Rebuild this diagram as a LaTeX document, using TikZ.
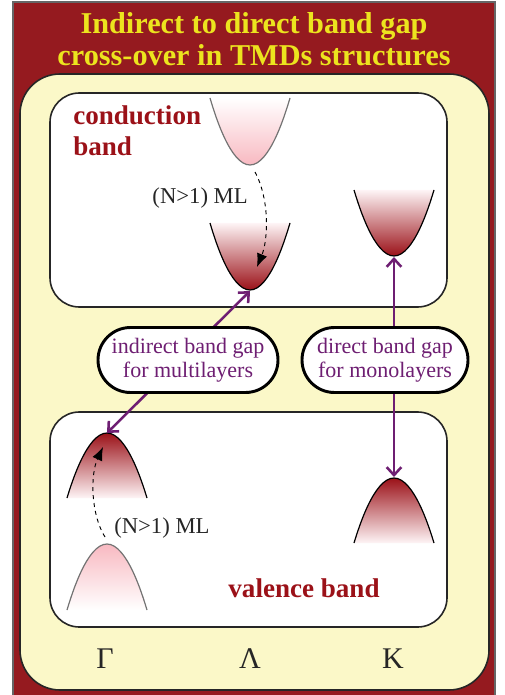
\documentclass[tikz,border=0pt]{standalone}
\usepackage{fontspec}
\setmainfont{Liberation Serif}
\usetikzlibrary{arrows.meta,positioning,shapes.misc}
\definecolor{bordeaux}{RGB}{149, 26, 31}
\definecolor{cream}{RGB}{251, 248, 200}
\definecolor{titleyellow}{RGB}{236, 228, 30}
\definecolor{bandred}{RGB}{155, 17, 24}
\definecolor{bandpink}{RGB}{248, 185, 193}
\definecolor{gapviolet}{RGB}{110, 30, 114}
\tikzset{
  panel/.style={draw=black!85, line width=1.2pt, fill=white, rounded corners=22pt},
  bandlabel/.style={text=bandred, font=\fontsize{20.3}{23.5}\selectfont\bfseries, align=left, inner sep=0pt},
  gapbubble/.style={draw=black, line width=2.2pt, fill=white, rounded rectangle, minimum height=48.75pt, text=gapviolet, align=center, inner sep=0pt, font=\fontsize{16.5}{18}\selectfont},
  gaparrow/.style={gapviolet, line width=1.9pt, {Straight Barb[length=6pt,width=11pt]}-{Straight Barb[length=6pt,width=11pt]}},
  mlshift/.style={dashed, line width=0.7pt, -{Latex[length=10pt,width=8pt]}},
  mllabel/.style={text=black!85, font=\fontsize{17}{20}\selectfont, inner sep=0pt},
  kpoint/.style={text=black!85, font=\fontsize{22.5}{24}\selectfont}
}

\begin{document}
\begin{tikzpicture}[x=0.75pt, y=-0.75pt]
  \useasboundingbox (0,0) rectangle (505,695);
  \draw [fill=bordeaux, draw=black!60, line width=1.5pt] (13,2) rectangle (495,697);
  \node [text=titleyellow, font=\fontsize{22.7}{24.5}\selectfont\bfseries, align=center, inner sep=0pt, anchor=north] (title) at (254,12) {Indirect to direct band gap\\cross-over in TMDs structures};
  \draw [fill=cream, draw=black!85, line width=1.2pt, rounded corners=30pt] (20,74) rectangle (489,690);

  % conduction and valence panels
  \draw [panel] (50,93) rectangle (447,307);
  \draw [panel] (50,412) rectangle (447,627);
  \node [bandlabel, anchor=north west] (cblabel) at (73,105) {conduction\\band};
  \node [bandlabel, anchor=base] (vblabel) at (304,597) {valence band};

  % conduction band minima
  \shade [top color=white, bottom color=bandpink] (210,98) parabola bend (250,165) (290,98) -- cycle;
  \draw [black!55, line width=0.9pt] (210,98) parabola bend (250,165) (290,98);
  \shade [top color=bandpink!15, bottom color=bandred] (210,223) parabola bend (250,290) (290,223) -- cycle;
  \draw [line width=0.9pt] (210,223) parabola bend (250,290) (290,223);
  \shade [top color=bandpink!15, bottom color=bandred] (354,190) parabola bend (394,256) (434,190) -- cycle;
  \draw [line width=0.9pt] (354,190) parabola bend (394,256) (434,190);

  % valence band maxima
  \shade [top color=bandred, bottom color=bandpink!15] (67,498) parabola bend (107,433) (147,498) -- cycle;
  \draw [line width=0.9pt] (67,498) parabola bend (107,433) (147,498);
  \shade [top color=bandpink, bottom color=white] (67,610) parabola bend (107,544) (147,610) -- cycle;
  \draw [black!55, line width=0.9pt] (67,610) parabola bend (107,544) (147,610);
  \shade [top color=bandred, bottom color=bandpink!15] (354,543) parabola bend (394,478) (434,543) -- cycle;
  \draw [line width=0.9pt] (354,543) parabola bend (394,478) (434,543);

  \coordinate (cbLambdaUp) at (255,172);
  \coordinate (cbLambda) at (257,267);
  \coordinate (vbGammaLow) at (105,537);
  \coordinate (vbGamma) at (103,447);
  \draw [mlshift] (cbLambdaUp) .. controls (270,200) and (268,240) .. (cbLambda);
  \draw [mlshift] (vbGammaLow) .. controls (91,515) and (90,475) .. (vbGamma);
  \node [mllabel, anchor=base east] (mlcb) at (248,204) {(N>1) ML};
  \node [mllabel, anchor=base west] (mlvb) at (114,533) {(N>1) ML};

  % band gap arrows
  \coordinate (cbMin) at (250,291);
  \coordinate (vbMax) at (107,433);
  \coordinate (cbK) at (394,257);
  \coordinate (vbK) at (394,477);
  \draw [gaparrow] (cbMin) -- (vbMax);
  \draw [gaparrow] (cbK) -- (vbK);
  \node [gapbubble, minimum width=135pt] (indirect) at (188,360) {indirect band gap\\for multilayers};
  \node [gapbubble, minimum width=124.5pt] (direct) at (385,360) {direct band gap\\for monolayers};

  \node [kpoint] (gamma) at (105,659) {Γ};
  \node [kpoint] (lambda) at (250,659) {Λ};
  \node [kpoint] (kvalley) at (393,659) {K};
\end{tikzpicture}
\end{document}
